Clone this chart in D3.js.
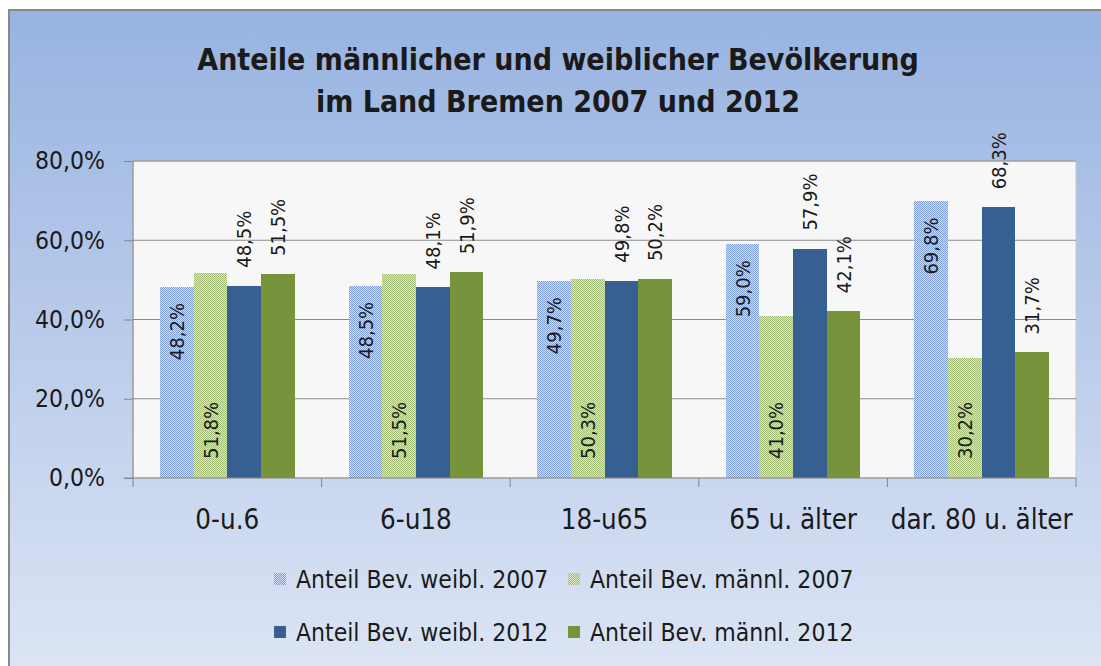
<!DOCTYPE html>
<html>
<head>
<meta charset="utf-8">
<script src="https://cdn.jsdelivr.net/npm/d3@7"></script>
<style>
body { margin: 0; background: #fff; }
svg { display: block; }
text { font-family: 'DejaVu Sans Condensed', 'DejaVu Sans', sans-serif; font-stretch: condensed; fill: #1a1a1a; }
</style>
</head>
<body>
<svg width="1101" height="666"></svg>
<script>
// **** data ****
var categories = ['0-u.6', '6-u18', '18-u65', '65 u. älter', 'dar. 80 u. älter'];
var seriesNames = ['Anteil Bev. weibl. 2007', 'Anteil Bev. männl. 2007', 'Anteil Bev. weibl. 2012', 'Anteil Bev. männl. 2012'];
var weibl2007 = [48.2, 48.5, 49.7, 59.0, 69.8];
var maennl2007 = [51.8, 51.5, 50.3, 41.0, 30.2];
var weibl2012 = [48.5, 48.1, 49.8, 57.9, 68.3];
var maennl2012 = [51.5, 51.9, 50.2, 42.1, 31.7];
var yTicks = [0, 20, 40, 60, 80];
var titleLines = ['Anteile männlicher und weiblicher Bevölkerung', 'im Land Bremen 2007 und 2012'];

var seriesValues = [weibl2007, maennl2007, weibl2012, maennl2012];
var fills = ['url(#patBlue)', 'url(#patGreen)', '#365f92', '#77933c'];
var labelPos = ['insideEnd', 'insideBase', 'outsideEnd', 'outsideEnd'];

var svg = d3.select('svg');
var defs = svg.append('defs');

/**
 * Background gradient + dotted patterns
 */
var grad = defs.append('linearGradient').attr('id', 'bg')
    .attr('x1', 0).attr('y1', 0).attr('x2', 0).attr('y2', 1);
grad.append('stop').attr('offset', '0%').attr('stop-color', '#98b3e1');
grad.append('stop').attr('offset', '100%').attr('stop-color', '#dee6f5');

function makePattern(id, dark, light) {
    var p = defs.append('pattern').attr('id', id)
        .attr('width', 2).attr('height', 2)
        .attr('patternUnits', 'userSpaceOnUse');
    p.append('rect').attr('width', 2).attr('height', 2).attr('fill', light);
    p.append('rect').attr('width', 1).attr('height', 1).attr('fill', dark);
    p.append('rect').attr('x', 1).attr('y', 1).attr('width', 1).attr('height', 1).attr('fill', dark);
}
makePattern('patBlue', '#7f9fd6', '#cfdcf1');
makePattern('patGreen', '#a3bc76', '#dde7c6');

svg.append('rect')
    .attr('x', 9).attr('y', 10)
    .attr('width', 1110).attr('height', 680)
    .attr('fill', 'url(#bg)')
    .attr('stroke', '#888')
    .attr('stroke-width', 2);

/**
 * Scales
 */
var plotLeft = 133, plotRight = 1076, plotTop = 161, plotBottom = 478;
var x0 = d3.scaleBand().domain(categories).range([plotLeft, plotRight]);
var x1 = d3.scaleBand().domain(seriesNames).range([0, x0.bandwidth()])
    .paddingInner(0).paddingOuter(0.8);
var y = d3.scaleLinear().domain([0, 80]).range([plotBottom, plotTop]);

function fmt(v) {
    return d3.format('.1f')(v).replace('.', ',') + '%';
}

// plot area
svg.append('rect')
    .attr('x', plotLeft).attr('y', plotTop)
    .attr('width', plotRight - plotLeft).attr('height', plotBottom - plotTop)
    .attr('fill', '#f7f7f7')
    .attr('stroke', '#c8c8c8');

// gridlines
svg.append('g').selectAll('line')
    .data(yTicks.slice(1))
    .enter()
    .append('line')
    .attr('x1', plotLeft).attr('x2', plotRight)
    .attr('y1', function(d) { return y(d); })
    .attr('y2', function(d) { return y(d); })
    .attr('stroke', '#8a8a8a');

/**
 * Bars (pixel-snapped so the dot patterns stay crisp)
 */
function rows(c, i) {
    return seriesNames.map(function(s, k) {
        return { cat: c, series: s, k: k, value: seriesValues[k][i] };
    });
}
function barX(d) { return Math.round(x0(d.cat) + x1(d.series)); }
function barX2(d) { return Math.round(x0(d.cat) + x1(d.series) + x1.bandwidth()); }

var groups = svg.append('g').selectAll('g')
    .data(categories)
    .enter()
    .append('g');

groups.selectAll('rect')
    .data(rows)
    .enter()
    .append('rect')
    .attr('x', barX)
    .attr('width', function(d) { return barX2(d) - barX(d); })
    .attr('y', function(d) { return Math.round(y(d.value)); })
    .attr('height', function(d) { return Math.round(y(0)) - Math.round(y(d.value)); })
    .attr('fill', function(d) { return fills[d.k]; });

// rotated value labels
groups.selectAll('text')
    .data(rows)
    .enter()
    .append('text')
    .attr('transform', function(d) {
        var cx = x0(d.cat) + x1(d.series) + x1.bandwidth() / 2;
        var ty;
        if (labelPos[d.k] === 'insideEnd') ty = y(d.value) + 16;
        else if (labelPos[d.k] === 'insideBase') ty = y(0) - 19;
        else ty = y(d.value) - 18;
        return 'translate(' + cx + ',' + ty + ') rotate(-90)';
    })
    .attr('dy', '0.36em')
    .style('text-anchor', function(d) { return labelPos[d.k] === 'insideEnd' ? 'end' : 'start'; })
    .style('font-size', '20px')
    .text(function(d) { return fmt(d.value); });

/**
 * Axis
 */
var yAxis = d3.axisLeft(y).tickValues(yTicks).tickSize(9).tickPadding(19)
    .tickFormat(fmt);
var gy = svg.append('g')
    .attr('transform', 'translate(' + plotLeft + ',0)')
    .call(yAxis);
gy.selectAll('line, path').attr('stroke', '#868686');
gy.selectAll('text').style('font-size', '24.5px').attr('fill', '#1a1a1a');
gy.select('.domain').attr('d', 'M0,' + plotTop + 'V' + plotBottom);

var xAxis = d3.axisBottom(x0).tickSize(0).tickPadding(31);
var gx = svg.append('g')
    .attr('transform', 'translate(0,' + plotBottom + ')')
    .call(xAxis);
gx.select('.domain').attr('d', 'M' + (plotLeft - 9) + ',0H' + plotRight).attr('stroke', '#868686');
gx.selectAll('text').style('font-size', '27.5px').attr('fill', '#1a1a1a');

// category separators
svg.append('g').selectAll('line')
    .data(categories.map(function(c) { return x0(c); }).concat([plotRight]))
    .enter()
    .append('line')
    .attr('x1', function(d) { return d; })
    .attr('x2', function(d) { return d; })
    .attr('y1', plotBottom)
    .attr('y2', plotBottom + 9)
    .attr('stroke', '#868686');

/**
 * Title
 */
svg.append('g').selectAll('text')
    .data(titleLines)
    .enter()
    .append('text')
    .attr('x', 558)
    .attr('y', function(d, i) { return 70 + i * 42; })
    .style('text-anchor', 'middle')
    .style('font-weight', 'bold')
    .style('font-size', '30px')
    .attr('fill', '#000')
    .text(function(d) { return d; });

/**
 * Legend
 */
var legend = svg.append('g').selectAll('g')
    .data(seriesNames)
    .enter()
    .append('g')
    .attr('transform', function(d, i) {
        return 'translate(' + (i % 2 === 0 ? 274 : 568) + ',' + (i < 2 ? 579 : 632) + ')';
    });
legend.append('rect')
    .attr('x', 0).attr('y', -6)
    .attr('width', 12).attr('height', 12)
    .attr('fill', function(d, i) { return fills[i]; });
legend.append('text')
    .attr('x', 22)
    .attr('dy', '0.36em')
    .style('font-size', '24.5px')
    .text(function(d) { return d; });
</script>
</body>
</html>
